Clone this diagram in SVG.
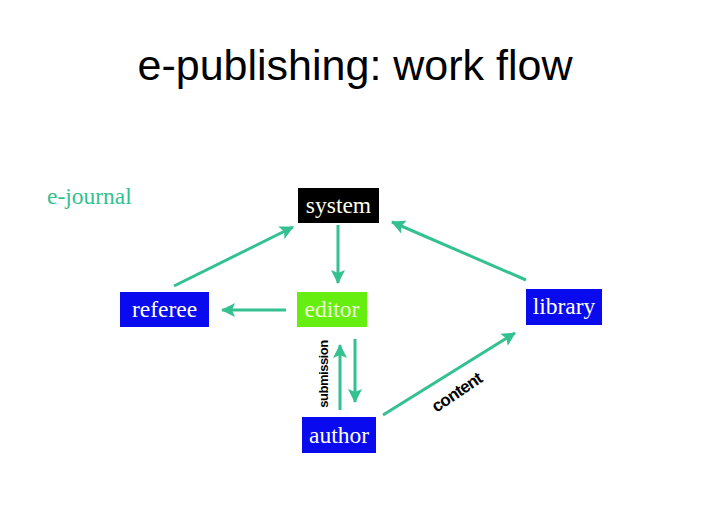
<svg xmlns="http://www.w3.org/2000/svg" width="709" height="531" viewBox="0 0 709 531">
<defs>
<marker id="ah" viewBox="0 0 14 14" refX="13" refY="7" markerWidth="14" markerHeight="14" markerUnits="userSpaceOnUse" orient="auto">
<path d="M0,0 L14,7 L0,14 L3,7 Z" fill="#33c190"/>
</marker>
<style>
.lbl{font-family:"Liberation Serif","Times New Roman",serif;font-size:23.5px;fill:#ffffff;text-anchor:middle}
.con{stroke:#33c190;stroke-width:3;fill:none;marker-end:url(#ah)}
.cl{font-family:"Liberation Sans",Arial,sans-serif;font-weight:bold;fill:#000;text-anchor:middle}
</style>
</defs>
<rect width="709" height="531" fill="#ffffff"/>
<text x="355" y="80" font-family="Liberation Sans, Arial, sans-serif" font-size="43" text-anchor="middle" fill="#000">e-publishing: work flow</text>
<text x="47" y="204" font-family="Liberation Serif, Times New Roman, serif" font-size="23.5" fill="#33c190">e-journal</text>
<g id="connectors">
<line class="con" x1="338" y1="225" x2="338" y2="283"/>
<line class="con" x1="286" y1="310" x2="222" y2="310"/>
<line class="con" x1="174" y1="286" x2="293" y2="227"/>
<line class="con" x1="526" y1="280" x2="392" y2="222"/>
<line class="con" x1="340" y1="410" x2="340" y2="345"/>
<line class="con" x1="355" y1="339" x2="355" y2="402"/>
<line class="con" x1="383" y1="415" x2="515" y2="333"/>
<text class="cl" font-size="13" letter-spacing="-0.5" transform="translate(328,374) rotate(-90)">submission</text>
<text class="cl" font-size="17" letter-spacing="-0.7" transform="translate(460,397) rotate(-34)">content</text>
</g>
<g id="system">
<rect x="298" y="188" width="81" height="35" fill="#000000"/>
<text class="lbl" x="338.5" y="213" style="fill:#ffffee">system</text>
</g>
<g id="editor">
<rect x="297" y="292" width="70" height="35" fill="#66ee11"/>
<text class="lbl" x="332" y="317" style="fill:#f0ffd8">editor</text>
</g>
<g id="referee">
<rect x="120" y="292" width="89" height="35" fill="#0a0aee"/>
<text class="lbl" x="164.5" y="317">referee</text>
</g>
<g id="library">
<rect x="526" y="289" width="76" height="36" fill="#0a0aee"/>
<text class="lbl" x="564" y="314">library</text>
</g>
<g id="author">
<rect x="302" y="417" width="74" height="36" fill="#0a0aee"/>
<text class="lbl" x="339" y="443">author</text>
</g>
</svg>
